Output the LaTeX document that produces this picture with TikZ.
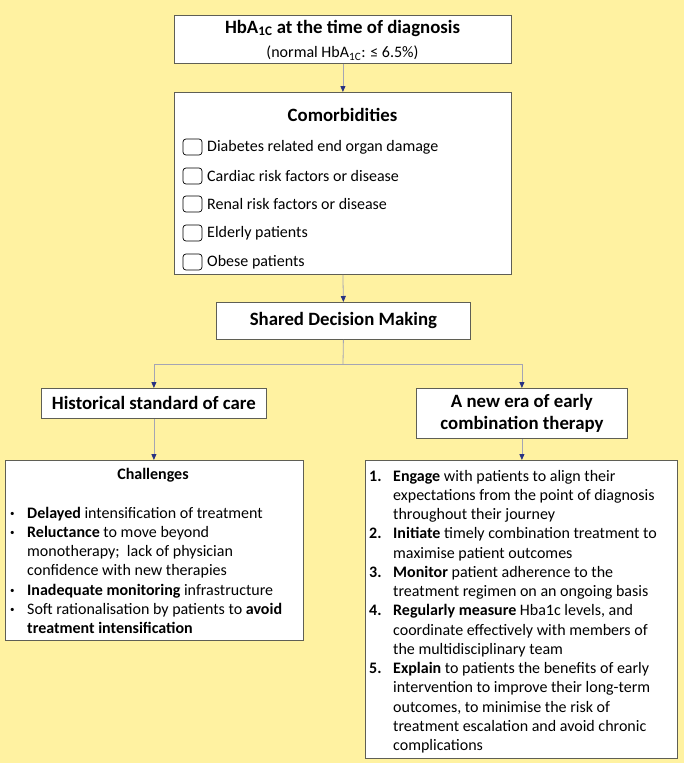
\documentclass[tikz,border=0pt]{standalone}
\usepackage{fontspec}
\setmainfont{Carlito}
\usepackage{xcolor}
\definecolor{bgyellow}{RGB}{255,242,161}
\definecolor{boxline}{RGB}{95,95,85}
\definecolor{linkgray}{RGB}{165,165,180}
\definecolor{tipblue}{RGB}{40,50,130}
\usetikzlibrary{arrows.meta,positioning}
\newcommand{\smalldot}{\raisebox{1.5pt}{\small\textbullet}}

\begin{document}
\begin{tikzpicture}[x=1pt,y=-1pt,
  box/.style={draw=boxline, fill=white, line width=0.8pt, inner sep=0pt, anchor=north west},
  head/.style={font=\fontsize{18.8}{22}\selectfont\bfseries, align=center, inner sep=0pt},
  body/.style={font=\fontsize{16}{19.25}\selectfont, inner sep=0pt},
  tickbox/.style={draw=black, line width=0.7pt, rounded corners=3pt, minimum width=19pt, minimum height=16pt, inner sep=0pt},
  link/.style={draw=linkgray, line width=0.8pt, -{Triangle[length=6pt,width=5pt,color=tipblue]}}
]
  %% Background and page size
  \fill[bgyellow] (0,0) rectangle (684,763);
  \useasboundingbox (0,0) rectangle (684,763);

  %% Boxes
  \node[box, minimum width=337pt, minimum height=48pt]  (diag)   at (174,15)  {};
  \node[box, minimum width=337pt, minimum height=182pt] (comorb) at (174,92)  {};
  \node[box, minimum width=254pt, minimum height=37pt]  (shared) at (216,302) {};
  \node[box, minimum width=225pt, minimum height=30pt]  (hist)   at (41,388)  {};
  \node[box, minimum width=211pt, minimum height=50pt]  (newera) at (416,388) {};
  \node[box, minimum width=298pt, minimum height=180pt] (chall)  at (5,460)   {};
  \node[box, minimum width=312pt, minimum height=298pt] (steps)  at (365,460) {};

  %% HbA1c at diagnosis
  \node[head] (diagtitle) at (342.5,28) {HbA\textsubscript{1C} at the time of diagnosis};
  \node[body] (diagnorm)  at (342.5,53) {(normal HbA\textsubscript{1C}: ≤ 6.5\%)};

  %% Comorbidities checklist
  \node[head] (comorbtitle) at (342.5,115) {Comorbidities};
  \foreach \y/\txt [count=\i] in {147/Diabetes related end organ damage,
                                 176/Cardiac risk factors or disease,
                                 204/Renal risk factors or disease,
                                 233/Elderly patients,
                                 262/Obese patients} {
    \node[tickbox] (tick\i) at (192.5,\y) {};
    \node[body, anchor=west] (item\i) at (207,\y) {\txt};
  }

  %% Decision and the two pathways
  \node[head] (sharedtitle) at (shared.center) {Shared Decision Making};
  \node[head] (histtitle)   at (hist.center)   {Historical standard of care};
  \node[head] (neweratitle) at (newera.center) {A new era of early\\combination therapy};

  %% Challenges
  \node[body, font=\fontsize{16}{19.25}\selectfont\bfseries] (challtitle) at (153,475) {Challenges};
  \node[body, anchor=north west, align=left] (challist) at (10,504.5) {%
    \begin{tabular}{@{}p{17pt}@{}l@{}}
      \smalldot & \textbf{Delayed} intensification of treatment\\
      \smalldot & \textbf{Reluctance} to move beyond\\
                & monotherapy;\ \ lack of physician\\
                & confidence with new therapies\\
      \smalldot & \textbf{Inadequate monitoring} infrastructure\\
      \smalldot & Soft rationalisation by patients to \textbf{avoid}\\
                & \textbf{treatment intensification}
    \end{tabular}};

  %% Early combination steps
  \node[body, anchor=north west, align=left] (steplist) at (369,467.5) {%
    \begin{tabular}{@{}p{24pt}@{}l@{}}
      \textbf{1.} & \textbf{Engage} with patients to align their\\
                  & expectations from the point of diagnosis\\
                  & throughout their journey\\
      \textbf{2.} & \textbf{Initiate} timely combination treatment to\\
                  & maximise patient outcomes\\
      \textbf{3.} & \textbf{Monitor} patient adherence to the\\
                  & treatment regimen on an ongoing basis\\
      \textbf{4.} & \textbf{Regularly measure} Hba1c levels, and\\
                  & coordinate effectively with members of\\
                  & the multidisciplinary team\\
      \textbf{5.} & \textbf{Explain} to patients the benefits of early\\
                  & intervention to improve their long-term\\
                  & outcomes, to minimise the risk of\\
                  & treatment escalation and avoid chronic\\
                  & complications
    \end{tabular}};

  %% Connectors
  \coordinate (split) at (343,364);
  \draw[link] (diag.south) -- (comorb.north);
  \draw[link] (comorb.south) -- (shared.north);
  \draw[draw=linkgray, line width=0.8pt] (shared.south) -- (split);
  \draw[link] (split) -| (hist.north);
  \draw[link] (split) -| (newera.north);
  \draw[link] (hist.south) -- (hist.south |- chall.north);
  \draw[link] (newera.south) -- (newera.south |- steps.north);
\end{tikzpicture}
\end{document}
